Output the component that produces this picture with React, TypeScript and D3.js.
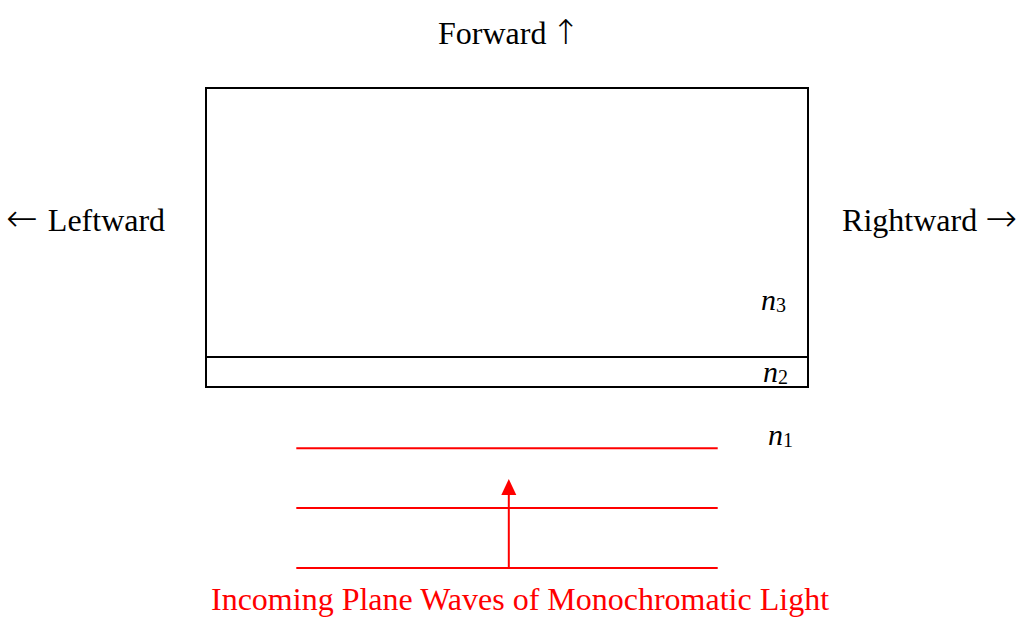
import React from "react";
import * as d3 from "d3";

const W = 1016;
const H = 627;

// Diagram "data" in abstract units
const layerLabels = ["n3", "n2", "n1"];
const layerBounds = [0, 9.0, 10]; // top of n3, n3/n2 boundary, bottom of n2 (depth units)
const waveDepths = [12.05, 14.05, 16.05]; // plane wave fronts (depth units)
const directionWords = ["Forward", "Leftward", "Rightward"];
const arrows = ["↑", "←", "→"];
const bottomLabel = "Incoming Plane Waves of Monochromatic Light";

const FONT = "'Liberation Serif', 'Times New Roman', serif";
const ARROW_FONT = "'DejaVu Sans', sans-serif";

export default function App() {
  const y = d3.scaleLinear().domain([0, 10]).range([88, 387]);
  const x = d3.scaleLinear().domain([0, 20]).range([206, 808]);
  const waveX = [x(3), x(17.0)];
  const arrowX = x(10.06);

  const line = d3.line<[number, number]>();
  const labelPos: [number, number][] = [
    [761, 310],
    [763, 382],
    [768, 445],
  ];

  return (
    <svg
      width={W}
      height={H}
      style={{ position: "absolute", left: 0, top: 0, background: "#fff" }}
      fontFamily={FONT}
    >
      {/* Box */}
      <rect
        x={x(0)}
        y={y(layerBounds[0])}
        width={x(20) - x(0)}
        height={y(layerBounds[2]) - y(layerBounds[0])}
        fill="none"
        stroke="#000"
        strokeWidth={2}
      />
      <path
        d={line([[x(0), y(layerBounds[1])], [x(20), y(layerBounds[1])]]) || ""}
        stroke="#000"
        strokeWidth={2}
      />
      {/* layer labels */}
      {layerLabels.map((l, i) => (
        <text key={l} x={labelPos[i][0]} y={labelPos[i][1]} fontSize={30} fill="#000">
          <tspan fontStyle="italic">{l[0]}</tspan>
          <tspan fontSize={20} dy={2}>{l.slice(1)}</tspan>
        </text>
      ))}

      {/* Waves */}
      {waveDepths.map((d, i) => (
        <path
          key={i}
          d={line([[waveX[0], y(d)], [waveX[1], y(d)]]) || ""}
          stroke="#ff0000"
          strokeWidth={2}
        />
      ))}
      {/* Arrow */}
      <path
        d={line([[arrowX, y(waveDepths[2])], [arrowX, 494]]) || ""}
        stroke="#ff0000"
        strokeWidth={2}
      />
      <path
        d={`M${arrowX},479 L${arrowX - 7.5},495 L${arrowX + 7.5},495 Z`}
        fill="#ff0000"
      />

      {/* Direction labels */}
      <text x={438} y={44} fontSize={32} fill="#000">
        <tspan>{directionWords[0]}</tspan>
        <tspan fontFamily={ARROW_FONT} fontWeight={200} fontSize={34} dx={5}>{arrows[0]}</tspan>
      </text>
      <text x={6} y={231} fontSize={32} fill="#000">
        <tspan fontFamily={ARROW_FONT} fontWeight={200} fontSize={38}>{arrows[1]}</tspan>
        <tspan dx={10}>{directionWords[1]}</tspan>
      </text>
      <text x={1017} y={231} fontSize={32} textAnchor="end" fill="#000">
        <tspan>{directionWords[2]}</tspan>
        <tspan fontFamily={ARROW_FONT} fontWeight={200} fontSize={38} dx={8}>{arrows[2]}</tspan>
      </text>

      <text x={520} y={610} fontSize={32} textAnchor="middle" fill="#ff0000">
        {bottomLabel}
      </text>
    </svg>
  );
}
